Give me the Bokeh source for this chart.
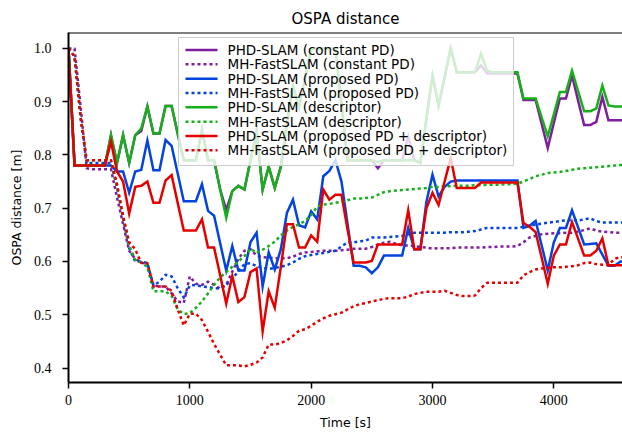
from bokeh.plotting import figure
from bokeh.models import (Range1d, FixedTicker, PrintfTickFormatter, Span,
                          BoxAnnotation, Arrow, Label)
from bokeh.embed import file_html
from bokeh.resources import INLINE

# Time stamps of the OSPA evaluation (every 50 s)
time_s = list(range(0, 4650, 50))

# PHD-SLAM (constant PD)
phd_const = [
    1.0, 0.78, 0.78, 0.78, 0.78, 0.78, 0.78, 0.837, 0.785, 0.837,
    0.785, 0.837, 0.845, 0.891, 0.84, 0.84, 0.892, 0.892, 0.84, 0.79,
    0.79, 0.79, 0.847, 0.79, 0.79, 0.735, 0.697, 0.732, 0.742, 0.735,
    0.79, 0.845, 0.735, 0.778, 0.738, 0.778, 0.86, 0.93, 0.89, 0.945,
    1.0, 1.0, 1.0, 1.0, 1.0, 0.895, 0.79, 0.79, 0.79, 0.79,
    0.79, 0.775, 0.79, 0.79, 0.79, 0.79, 0.835, 0.79, 0.785, 0.868,
    0.949, 0.893, 0.946, 1.0, 0.955, 0.955, 0.955, 0.955, 0.968, 0.953,
    0.953, 0.953, 0.953, 0.953, 0.953, 0.903, 0.903, 0.903, 0.858, 0.813,
    0.86, 0.906, 0.906, 0.949, 0.902, 0.856, 0.856, 0.862, 0.909, 0.865,
    0.865, 0.865, 0.865,
]
# MH-FastSLAM (constant PD)
mh_const = [
    1.0, 1.0, 0.89, 0.775, 0.773, 0.773, 0.773, 0.773, 0.72, 0.67,
    0.62, 0.605, 0.598, 0.595, 0.555, 0.553, 0.553, 0.54, 0.525, 0.522,
    0.572, 0.558, 0.556, 0.562, 0.556, 0.549, 0.556, 0.581, 0.605, 0.62,
    0.623, 0.611, 0.608, 0.607, 0.606, 0.606, 0.606, 0.609, 0.614, 0.617,
    0.618, 0.619, 0.62, 0.62, 0.62, 0.621, 0.622, 0.624, 0.624, 0.624,
    0.627, 0.632, 0.635, 0.637, 0.633, 0.63, 0.63, 0.629, 0.627, 0.626,
    0.624, 0.625, 0.625, 0.625, 0.626, 0.626, 0.626, 0.626, 0.626, 0.627,
    0.627, 0.628, 0.628, 0.628, 0.629, 0.636, 0.645, 0.648, 0.651, 0.652,
    0.653, 0.653, 0.654, 0.654, 0.656, 0.659, 0.662, 0.658, 0.656, 0.655,
    0.654, 0.654, 0.654,
]
# PHD-SLAM (proposed PD)
phd_prop = [
    1.0, 0.78, 0.78, 0.78, 0.78, 0.78, 0.78, 0.78, 0.769, 0.769,
    0.729, 0.769, 0.772, 0.827, 0.771, 0.771, 0.828, 0.817, 0.765, 0.713,
    0.713, 0.713, 0.745, 0.695, 0.686, 0.634, 0.583, 0.629, 0.583, 0.583,
    0.636, 0.654, 0.553, 0.617, 0.585, 0.623, 0.691, 0.716, 0.668, 0.664,
    0.694, 0.679, 0.76, 0.77, 0.79, 0.75, 0.67, 0.592, 0.592, 0.589,
    0.578, 0.589, 0.611, 0.611, 0.611, 0.611, 0.663, 0.623, 0.623, 0.712,
    0.763, 0.722, 0.74, 0.75, 0.752, 0.752, 0.752, 0.752, 0.752, 0.752,
    0.752, 0.752, 0.752, 0.752, 0.752, 0.663, 0.667, 0.676, 0.63, 0.583,
    0.636, 0.663, 0.663, 0.696, 0.664, 0.632, 0.633, 0.634, 0.613, 0.592,
    0.592, 0.6, 0.6,
]
# MH-FastSLAM (proposed PD)
mh_prop = [
    1.0, 0.985, 0.87, 0.785, 0.785, 0.785, 0.785, 0.785, 0.74, 0.68,
    0.625, 0.6, 0.6, 0.597, 0.555, 0.562, 0.575, 0.572, 0.55, 0.532,
    0.555, 0.556, 0.553, 0.552, 0.55, 0.549, 0.556, 0.567, 0.582, 0.595,
    0.597, 0.591, 0.588, 0.586, 0.588, 0.59, 0.593, 0.598, 0.605, 0.61,
    0.612, 0.614, 0.616, 0.618, 0.62, 0.628, 0.636, 0.636, 0.638, 0.639,
    0.645, 0.645, 0.645, 0.646, 0.647, 0.648, 0.651, 0.654, 0.654, 0.654,
    0.654, 0.654, 0.654, 0.655, 0.655, 0.655, 0.656, 0.657, 0.66, 0.663,
    0.663, 0.663, 0.663, 0.663, 0.663, 0.665, 0.667, 0.669, 0.671, 0.673,
    0.674, 0.676, 0.677, 0.678, 0.677, 0.679, 0.681, 0.676, 0.673, 0.673,
    0.673, 0.673, 0.673,
]
# PHD-SLAM (descriptor)
phd_desc = [
    1.0, 0.78, 0.78, 0.78, 0.78, 0.78, 0.78, 0.837, 0.785, 0.837,
    0.785, 0.837, 0.85, 0.891, 0.84, 0.84, 0.892, 0.892, 0.84, 0.79,
    0.79, 0.79, 0.847, 0.79, 0.79, 0.735, 0.682, 0.732, 0.742, 0.735,
    0.79, 0.84, 0.735, 0.778, 0.738, 0.778, 0.86, 0.93, 0.89, 0.945,
    1.0, 1.0, 1.0, 1.0, 1.0, 0.895, 0.79, 0.79, 0.79, 0.79,
    0.79, 0.787, 0.79, 0.79, 0.79, 0.79, 0.79, 0.79, 0.785, 0.868,
    0.949, 0.893, 0.946, 1.0, 0.955, 0.955, 0.955, 0.955, 0.99, 0.958,
    0.955, 0.955, 0.955, 0.955, 0.955, 0.906, 0.906, 0.906, 0.87, 0.835,
    0.876, 0.918, 0.918, 0.958, 0.92, 0.882, 0.882, 0.887, 0.93, 0.893,
    0.891, 0.891, 0.891,
]
# MH-FastSLAM (descriptor)
mh_desc = [
    1.0, 0.985, 0.87, 0.79, 0.79, 0.79, 0.79, 0.79, 0.74, 0.685,
    0.63, 0.603, 0.598, 0.59, 0.544, 0.544, 0.544, 0.535, 0.51, 0.501,
    0.503, 0.513, 0.525, 0.54, 0.556, 0.57, 0.58, 0.59, 0.6, 0.61,
    0.624, 0.616, 0.622, 0.629, 0.637, 0.649, 0.658, 0.665, 0.67, 0.676,
    0.687, 0.703, 0.707, 0.708, 0.71, 0.712, 0.715, 0.718, 0.718, 0.719,
    0.72, 0.725, 0.73, 0.732, 0.733, 0.734, 0.735, 0.736, 0.737, 0.738,
    0.74, 0.74, 0.741, 0.741, 0.742, 0.742, 0.742, 0.743, 0.743, 0.744,
    0.744, 0.744, 0.745, 0.745, 0.746, 0.75, 0.755, 0.76, 0.763, 0.766,
    0.767, 0.768, 0.77, 0.772, 0.774, 0.775, 0.776, 0.777, 0.778, 0.779,
    0.78, 0.781, 0.782,
]
# PHD-SLAM (proposed PD + descriptor)
phd_both = [
    1.0, 0.78, 0.78, 0.78, 0.78, 0.78, 0.78, 0.825, 0.769, 0.75,
    0.69, 0.74, 0.742, 0.75, 0.71, 0.71, 0.752, 0.762, 0.71, 0.658,
    0.658, 0.658, 0.679, 0.626, 0.626, 0.574, 0.521, 0.573, 0.524, 0.533,
    0.58, 0.587, 0.469, 0.544, 0.513, 0.59, 0.67, 0.67, 0.626, 0.626,
    0.649, 0.637, 0.735, 0.716, 0.725, 0.725, 0.66, 0.598, 0.598, 0.598,
    0.601, 0.632, 0.632, 0.632, 0.632, 0.632, 0.696, 0.623, 0.623, 0.70,
    0.729, 0.706, 0.75, 0.794, 0.738, 0.738, 0.738, 0.738, 0.748, 0.748,
    0.748, 0.748, 0.748, 0.748, 0.748, 0.672, 0.665, 0.655, 0.607, 0.558,
    0.611, 0.632, 0.632, 0.674, 0.643, 0.611, 0.611, 0.62, 0.643, 0.593,
    0.593, 0.593, 0.593,
]
# MH-FastSLAM (proposed PD + descriptor)
mh_both = [
    1.0, 0.985, 0.87, 0.79, 0.79, 0.79, 0.79, 0.79, 0.745, 0.685,
    0.636, 0.623, 0.597, 0.597, 0.553, 0.553, 0.553, 0.545, 0.51, 0.48,
    0.502, 0.502, 0.49, 0.468, 0.445, 0.425, 0.405, 0.405, 0.405, 0.403,
    0.406, 0.41, 0.42, 0.444, 0.444, 0.447, 0.452, 0.46, 0.47, 0.473,
    0.479, 0.487, 0.493, 0.498, 0.501, 0.504, 0.51, 0.516, 0.52, 0.522,
    0.525, 0.527, 0.53, 0.531, 0.531, 0.531, 0.534, 0.539, 0.541, 0.543,
    0.543, 0.543, 0.545, 0.541, 0.537, 0.535, 0.535, 0.536, 0.55, 0.56,
    0.56, 0.56, 0.56, 0.56, 0.56, 0.574, 0.58, 0.585, 0.587, 0.588,
    0.589, 0.589, 0.59, 0.591, 0.593, 0.597, 0.598, 0.595, 0.594, 0.593,
    0.605, 0.608, 0.608,
]

x_ticks = [0, 1000, 2000, 3000, 4000]
y_ticks = [0.4, 0.5, 0.6, 0.7, 0.8, 0.9, 1.0]

PURPLE = "#7e1e9c"
BLUE = "#0343df"
GREEN = "#15b01a"
RED = "#e50000"
DOTTED = "3 3"

series = [
    ("PHD-SLAM (constant PD)", phd_const, PURPLE, "solid"),
    ("MH-FastSLAM (constant PD)", mh_const, PURPLE, DOTTED),
    ("PHD-SLAM (proposed PD)", phd_prop, BLUE, "solid"),
    ("MH-FastSLAM (proposed PD)", mh_prop, BLUE, DOTTED),
    ("PHD-SLAM (descriptor)", phd_desc, GREEN, "solid"),
    ("MH-FastSLAM (descriptor)", mh_desc, GREEN, DOTTED),
    ("PHD-SLAM (proposed PD + descriptor)", phd_both, RED, "solid"),
    ("MH-FastSLAM (proposed PD + descriptor)", mh_both, RED, DOTTED),
]

X_MAX = 4566
Y_MIN, Y_MAX = 0.3728, 1.0298

p = figure(
    width=622, height=432,
    output_backend="svg", toolbar_location=None,
    x_range=Range1d(0, X_MAX), y_range=Range1d(Y_MIN, Y_MAX),
    min_border_left=68, min_border_right=0,
    min_border_top=32, min_border_bottom=48,
    title="OSPA distance",
)
p.background_fill_color = "white"
p.border_fill_color = "white"
p.outline_line_color = None
p.grid.visible = False

p.title.text_font = "DejaVu Sans"
p.title.text_font_size = "15px"
p.title.text_font_style = "normal"
p.title.align = "center"
p.title.text_color = "black"

for name, ys, color, dash in series:
    p.line(time_s, ys, line_color=color, line_width=2.5, line_dash=dash,
           line_join="miter" if dash == "solid" else "round")

# top spine
p.add_layout(Span(location=Y_MAX, dimension="width", line_color="black", line_width=2))

for ax in (p.xaxis[0], p.yaxis[0]):
    ax.axis_line_width = 2
    ax.axis_line_color = "black"
    ax.major_tick_line_width = 1.5
    ax.major_tick_line_color = "black"
    ax.major_tick_out = 6
    ax.major_tick_in = 0
    ax.minor_tick_out = 0
    ax.minor_tick_in = 0
    ax.major_label_text_font = "Liberation Serif"
    ax.major_label_text_font_size = "14px"
    ax.major_label_text_color = "black"
    ax.major_label_text_line_height = 1.0
    ax.axis_label_text_font = "DejaVu Sans"
    ax.axis_label_text_font_size = "12.5px"
    ax.axis_label_text_font_style = "normal"
    ax.axis_label_text_color = "black"
    ax.axis_label_text_line_height = 1.0

p.xaxis.ticker = FixedTicker(ticks=x_ticks)
p.yaxis.ticker = FixedTicker(ticks=y_ticks)
p.xaxis.formatter = PrintfTickFormatter(format="%d")
p.yaxis.formatter = PrintfTickFormatter(format="%.1f")
p.xaxis.major_label_standoff = 6
p.yaxis.major_label_standoff = 11
p.xaxis.axis_label = "Time [s]"
p.yaxis.axis_label = "OSPA distance [m]"
p.xaxis.axis_label_standoff = 7
p.yaxis.axis_label_standoff = 7

# Legend box, drawn in frame pixels (origin at the frame's bottom-left)
LEG_LEFT, LEG_RIGHT, LEG_TOP, LEG_BOTTOM = 110, 445, 345, 217
ROW0, ROW_STEP = 332.5, 14.33
SAMPLE_X0, SAMPLE_X1, TEXT_X = 117, 149, 159

p.add_layout(BoxAnnotation(
    left=LEG_LEFT, right=LEG_RIGHT, top=LEG_TOP, bottom=LEG_BOTTOM,
    left_units="screen", right_units="screen", top_units="screen", bottom_units="screen",
    fill_color="white", fill_alpha=0.8, line_color="#cccccc", line_width=1,
    line_alpha=1.0,
))
for i, (name, ys, color, dash) in enumerate(series):
    row_y = ROW0 - i * ROW_STEP
    p.add_layout(Arrow(
        x_start=SAMPLE_X0, y_start=row_y, x_end=SAMPLE_X1, y_end=row_y,
        start_units="screen", end_units="screen", start=None, end=None,
        line_color=color, line_width=2.5, line_dash=dash,
    ))
    p.add_layout(Label(
        x=TEXT_X, y=row_y, x_units="screen", y_units="screen", text=name,
        text_font="DejaVu Sans", text_font_size="13.5px", text_color="black",
        text_baseline="middle", text_align="left",
    ))

open("out.html", "w").write(file_html(p, INLINE))
